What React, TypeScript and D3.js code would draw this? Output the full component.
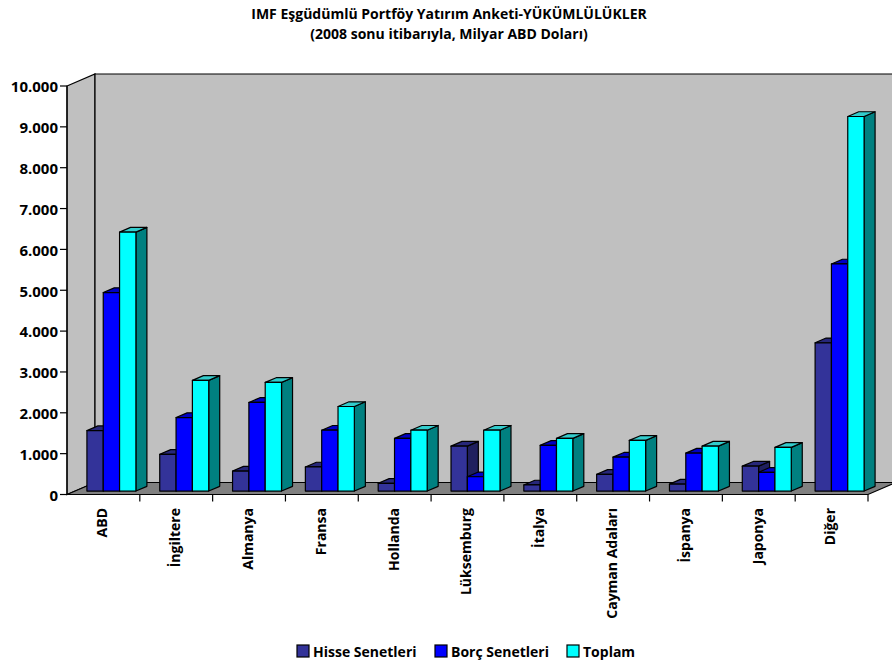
import React from "react";
import * as d3 from "d3";

const categories = ["ABD", "İngiltere", "Almanya", "Fransa", "Hollanda", "Lüksemburg", "İtalya", "Cayman Adaları", "İspanya", "Japonya", "Diğer"];
const seriesNames = ["Hisse Senetleri", "Borç Senetleri", "Toplam"];
const hisse = [1480, 900, 490, 590, 190, 1100, 150, 410, 170, 610, 3630];
const borc = [4860, 1800, 2170, 1490, 1290, 350, 1120, 830, 930, 460, 5560];
const toplam = [6340, 2710, 2660, 2070, 1490, 1490, 1290, 1240, 1100, 1070, 9170];
const yTicks = [0, 1000, 2000, 3000, 4000, 5000, 6000, 7000, 8000, 9000, 10000];
const titleLines = ["IMF Eşgüdümlü Portföy Yatırım Anketi-YÜKÜMLÜLÜKLER", "(2008 sonu itibarıyla, Milyar ABD Doları)"];

const colors = [
  { front: "#333399", top: "#27277a", side: "#1f1f5e" },
  { front: "#0000FF", top: "#0000c4", side: "#00009e" },
  { front: "#00FFFF", top: "#33cccc", side: "#008080" },
];

const FONT = "'Open Sans', 'DejaVu Sans', sans-serif";

export default function App() {
  const W = 892, H = 666;
  const x0 = 67, x1 = 868;
  const DX = 28, DY = 12;
  const y = d3.scaleLinear().domain([0, 10000]).range([494.5, 86]);
  const x = d3.scaleBand<string>().domain(categories).range([x0, x1]).paddingInner(0).paddingOuter(0);
  const inner = d3.scaleBand<string>().domain(seriesNames).range([0, x.bandwidth()]).paddingInner(0).paddingOuter(0.73);
  const d0 = 8 / DX;
  const bd = 11 / DX;
  const loc = d3.formatLocale({ decimal: ",", thousands: ".", grouping: [3], currency: ["", ""] });
  const fmt = loc.format(",");
  const data = [hisse, borc, toplam];

  const top = y(10000), base = y(0);
  const bars: JSX.Element[] = [];
  categories.forEach((c, ci) => {
    seriesNames.forEach((s, si) => {
      const v = data[si][ci];
      const fx0 = (x(c) as number) + (inner(s) as number) + d0 * DX;
      const fx1 = fx0 + inner.bandwidth();
      const ty = y(v) - d0 * DY;
      const by = y(0) - d0 * DY;
      const bdx = bd * DX, bdy = bd * DY;
      const col = colors[si];
      bars.push(
        <g key={c + s} stroke="#000" strokeWidth={1.2} strokeLinejoin="round">
          <polygon points={`${fx1},${ty} ${fx1 + bdx},${ty - bdy} ${fx1 + bdx},${by - bdy} ${fx1},${by}`} fill={col.side} />
          <polygon points={`${fx0},${ty} ${fx0 + bdx},${ty - bdy} ${fx1 + bdx},${ty - bdy} ${fx1},${ty}`} fill={col.top} />
          <rect x={fx0} y={ty} width={fx1 - fx0} height={by - ty} fill={col.front} />
        </g>
      );
    });
  });

  const legendItems = [
    { x: 297, label: seriesNames[0] },
    { x: 435, label: seriesNames[1] },
    { x: 567, label: seriesNames[2] },
  ];

  return (
    <svg width={W} height={H} viewBox={`0 0 ${W} ${H}`} style={{ position: "absolute", left: 0, top: 0, background: "#fff" }}>
      <g fontFamily={FONT} fontWeight="bold" fill="#000">
        {titleLines.map((t, i) => (
          <text key={i} x={449} y={19 + i * 20} textAnchor="middle" fontSize={14}>{t}</text>
        ))}
      </g>
      {/* walls */}
      <polygon points={`${x0},${top} ${x0 + DX},${top - DY} ${x0 + DX},${base - DY} ${x0},${base}`} fill="#C0C0C0" stroke="#000" strokeWidth={1.2} />
      <polygon points={`${x0 + DX},${top - DY} ${W + 10},${top - DY} ${W + 10},${base - DY} ${x0 + DX},${base - DY}`} fill="#C0C0C0" stroke="#000" strokeWidth={1.2} />
      <polygon points={`${x0},${base} ${x0 + DX},${base - DY} ${x1 + DX},${base - DY} ${x1},${base}`} fill="#808080" stroke="#000" strokeWidth={1.2} />
      {/* y axis */}
      <line x1={x0} x2={x0} y1={top} y2={base} stroke="#000" strokeWidth={1.2} />
      {yTicks.map((t) => (
        <g key={t}>
          <line x1={x0 - 7} x2={x0} y1={y(t)} y2={y(t)} stroke="#000" strokeWidth={1.2} />
          <text x={x0 - 9} y={y(t) + 1} dy="0.35em" textAnchor="end" fontFamily={FONT} fontWeight="bold" fontSize={15}>{fmt(t)}</text>
        </g>
      ))}
      {/* x axis */}
      <line x1={x0} x2={x1} y1={base} y2={base} stroke="#000" strokeWidth={1.2} />
      {categories.map((c) => (
        <line key={"t" + c} x1={(x(c) as number) + x.bandwidth()} x2={(x(c) as number) + x.bandwidth()} y1={base} y2={base + 7} stroke="#000" strokeWidth={1.2} />
      ))}
      {bars}
      {categories.map((c) => {
        const cx = (x(c) as number) + x.bandwidth() / 2 - 1;
        return (
          <text key={"l" + c} transform={`translate(${cx},${508}) rotate(-90)`} textAnchor="end" dy="0.35em" fontFamily={FONT} fontWeight="bold" fontSize={14}>{c}</text>
        );
      })}
      {/* legend */}
      {legendItems.map((it, i) => (
        <g key={it.label}>
          <rect x={it.x} y={645} width={12} height={12} fill={colors[i].front} stroke="#000" strokeWidth={1.2} />
          <text x={it.x + 16} y={657} fontFamily={FONT} fontWeight="bold" fontSize={14}>{it.label}</text>
        </g>
      ))}
    </svg>
  );
}
